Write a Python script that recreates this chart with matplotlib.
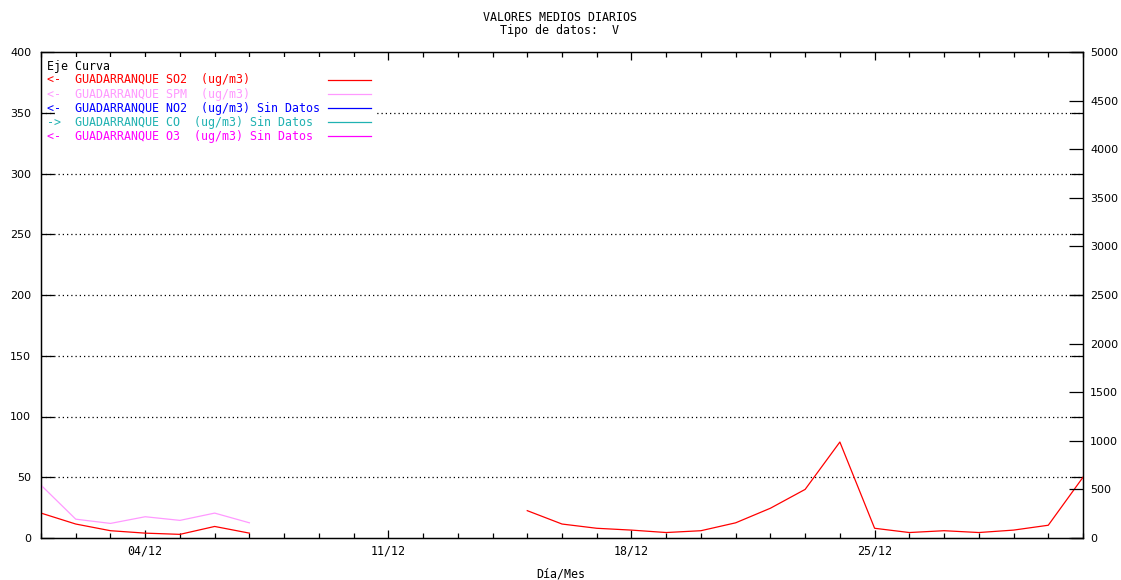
import numpy as np
import matplotlib
matplotlib.use("Agg")
import matplotlib.pyplot as plt
from matplotlib.ticker import MultipleLocator, FixedLocator, FixedFormatter

# ---------------- data ----------------
days = list(range(1, 32))
nan = np.nan
so2 = [20.5, 11.5, 6, 4, 3, 9.5, 4, nan, nan, nan, nan, nan, nan, nan,
       22.5, 11.5, 8, 6.5, 4.5, 6, 12.5, 24.5, 40, 79, 8, 4.5, 6, 4.5, 6.5, 10.5, 50]
spm = [43.5, 15.5, 12, 17.5, 14.5, 20.5, 12.5] + [nan] * 24
xtick_days = [4, 11, 18, 25]
xtick_labels = ["04/12", "11/12", "18/12", "25/12"]
legend_rows = [
    ("<-  GUADARRANQUE SO2  (ug/m3)", "#ff0000"),
    ("<-  GUADARRANQUE SPM  (ug/m3)", "#ff99ff"),
    ("<-  GUADARRANQUE NO2  (ug/m3) Sin Datos", "#0000ff"),
    ("->  GUADARRANQUE CO  (ug/m3) Sin Datos", "#20b2b2"),
    ("<-  GUADARRANQUE O3  (ug/m3) Sin Datos", "#ff00ff"),
]
title_lines = "VALORES MEDIOS DIARIOS\nTipo de datos:  V"

# ---------------- layout ----------------
W, H = 1121, 580
L, R, T, B = 41, 1083, 52, 538
mono = "DejaVu Sans Mono"
fs_mono = 8.4

fig = plt.figure(figsize=(W / 100, H / 100), dpi=100)
ax = fig.add_axes([L / W, 1 - B / H, (R - L) / W, (B - T) / H])
ax2 = ax.twinx()

def afx(px):
    return (px - L) / (R - L)

def afy(py):
    return (B - py) / (B - T)

ax.set_xlim(1, 31)
ax.set_ylim(0, 400)
ax2.set_ylim(0, 5000)

# grid lines (dotted)
for v in range(50, 400, 50):
    ax.axhline(v, color="black", lw=0.9, ls=(0, (1.0, 2.4)), zorder=1)

# data
ax.plot(days, so2, color="#ff0000", lw=0.9, zorder=3)
ax.plot(days, spm, color="#ff99ff", lw=0.9, zorder=3)

# ticks
ax.yaxis.set_major_locator(MultipleLocator(50))
ax.tick_params(axis="y", which="major", direction="in", length=9, width=0.9,
               left=True, right=True, labelsize=8, pad=7)
ax.xaxis.set_major_locator(FixedLocator(xtick_days))
ax.xaxis.set_major_formatter(FixedFormatter(xtick_labels))
ax.xaxis.set_minor_locator(MultipleLocator(1))
ax.tick_params(axis="x", which="major", direction="in", length=6, width=0.9,
               top=True, bottom=True, pad=5)
ax.tick_params(axis="x", which="minor", direction="in", length=3.6, width=0.9,
               top=True, bottom=True)
for lab in ax.get_xticklabels():
    lab.set_fontfamily(mono)
    lab.set_fontsize(fs_mono)
for lab in ax.get_yticklabels():
    lab.set_fontfamily("DejaVu Sans")

ax2.yaxis.set_major_locator(MultipleLocator(500))
ax2.tick_params(axis="y", which="major", direction="in", length=10, width=0.9,
                labelsize=8, pad=5)
for lab in ax2.get_yticklabels():
    lab.set_fontfamily("DejaVu Sans")

for a in (ax, ax2):
    for s in a.spines.values():
        s.set_linewidth(0.9)

# legend block
bg = plt.Rectangle((afx(55), afy(143)), afx(377) - afx(55), afy(57) - afy(143),
                   transform=ax.transAxes, facecolor="white", edgecolor="none", zorder=4)
ax.add_patch(bg)
ax.text(afx(47), afy(66.5), "Eje Curva", transform=ax.transAxes, family=mono,
        fontsize=fs_mono, color="black", va="center", ha="left", zorder=5)
for i, (txt, col) in enumerate(legend_rows):
    yy = afy(80 + 14.1 * i)
    ax.text(afx(47), yy, txt, transform=ax.transAxes, family=mono,
            fontsize=fs_mono, color=col, va="center", ha="left", zorder=5)
    ax.plot([afx(328), afx(371)], [yy, yy], transform=ax.transAxes,
            color=col, lw=0.9, zorder=5, clip_on=False)

# titles
fig.text(560 / W, 1 - 24 / H, title_lines, family=mono, fontsize=fs_mono,
         ha="center", va="center", linespacing=1.05)
fig.text(561 / W, 1 - 574 / H, "Día/Mes", family=mono, fontsize=fs_mono,
         ha="center", va="center")

fig.savefig("out.png", dpi=100)
